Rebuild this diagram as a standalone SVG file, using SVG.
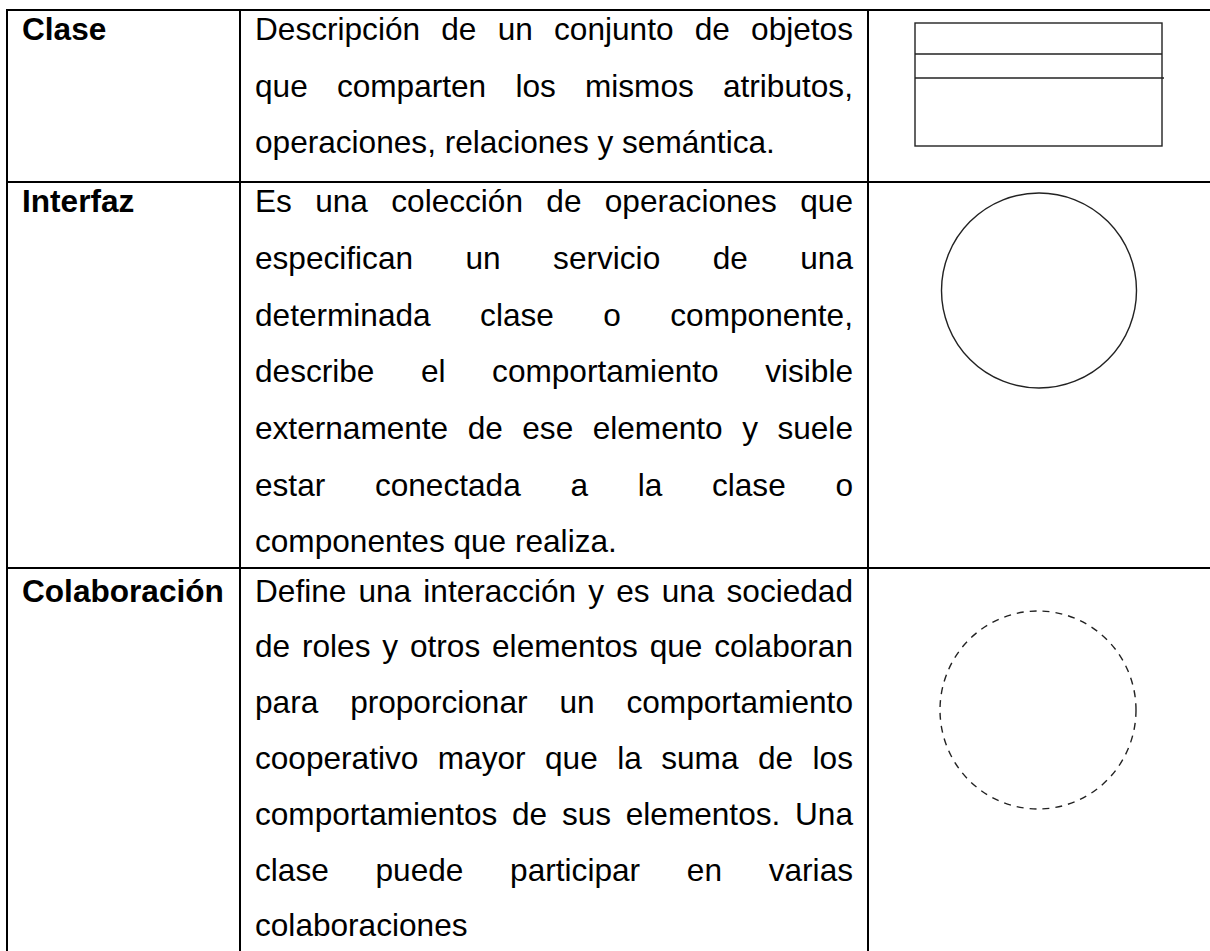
<svg xmlns="http://www.w3.org/2000/svg" width="1210" height="951" viewBox="0 0 1210 951">
<style>
.grid{stroke:#000;stroke-width:2;fill:none}
.sym{stroke:#222;stroke-width:1.4;fill:none}
.dash{stroke-dasharray:7 6}
text{font-family:"Liberation Sans",Arial,sans-serif;font-size:31.6px;fill:#000;font-kerning:none}
.lbl{font-weight:bold}
</style>
<rect width="1210" height="951" fill="#fff"/>
<g id="table-grid" class="grid">
<rect x="7" y="10" width="1210" height="960"/>
<line x1="240" y1="10" x2="240" y2="960"/>
<line x1="868" y1="10" x2="868" y2="960"/>
<line x1="7" y1="182" x2="1217" y2="182"/>
<line x1="7" y1="568" x2="1217" y2="568"/>
</g>
<g id="connectors"/>
<g id="row-clase">
<text class="lbl" x="22" y="40">Clase</text>
<text x="255" y="40" word-spacing="12.46">Descripción de un conjunto de objetos</text>
<text x="255" y="96.5" word-spacing="20.42">que comparten los mismos atributos,</text>
<text x="255" y="153">operaciones, relaciones y semántica.</text>
<g id="clase-symbol" class="sym">
<rect x="915" y="23" width="247" height="123"/>
<line x1="915" y1="54" x2="1162" y2="54"/>
<line x1="915" y1="78" x2="1164" y2="78"/>
</g>
</g>
<g id="row-interfaz">
<text class="lbl" x="22" y="212">Interfaz</text>
<text x="255" y="212" word-spacing="14.56">Es una colección de operaciones que</text>
<text x="255" y="268.8" word-spacing="43.68">especifican un servicio de una</text>
<text x="255" y="325.5" word-spacing="40.67">determinada clase o componente,</text>
<text x="255" y="382.2" word-spacing="37.77">describe el comportamiento visible</text>
<text x="255" y="438.9" word-spacing="10.70">externamente de ese elemento y suele</text>
<text x="255" y="495.6" word-spacing="40.91">estar conectada a la clase o</text>
<text x="255" y="552.3">componentes que realiza.</text>
<circle id="interfaz-symbol" class="sym" cx="1039" cy="290.5" r="97.5"/>
</g>
<g id="row-colaboracion">
<text class="lbl" x="22" y="601.5">Colaboración</text>
<text x="255" y="601.5" word-spacing="3.36">Define una interacción y es una sociedad</text>
<text x="255" y="657.3" word-spacing="3.07">de roles y otros elementos que colaboran</text>
<text x="255" y="713.1" word-spacing="23.12">para proporcionar un comportamiento</text>
<text x="255" y="768.9" word-spacing="10.68">cooperativo mayor que la suma de los</text>
<text x="255" y="824.7" word-spacing="5.93">comportamientos de sus elementos. Una</text>
<text x="255" y="880.5" word-spacing="37.98">clase puede participar en varias</text>
<text x="255" y="936.3">colaboraciones</text>
<ellipse id="colaboracion-symbol" class="sym dash" cx="1038" cy="710" rx="98" ry="99"/>
</g>
</svg>
